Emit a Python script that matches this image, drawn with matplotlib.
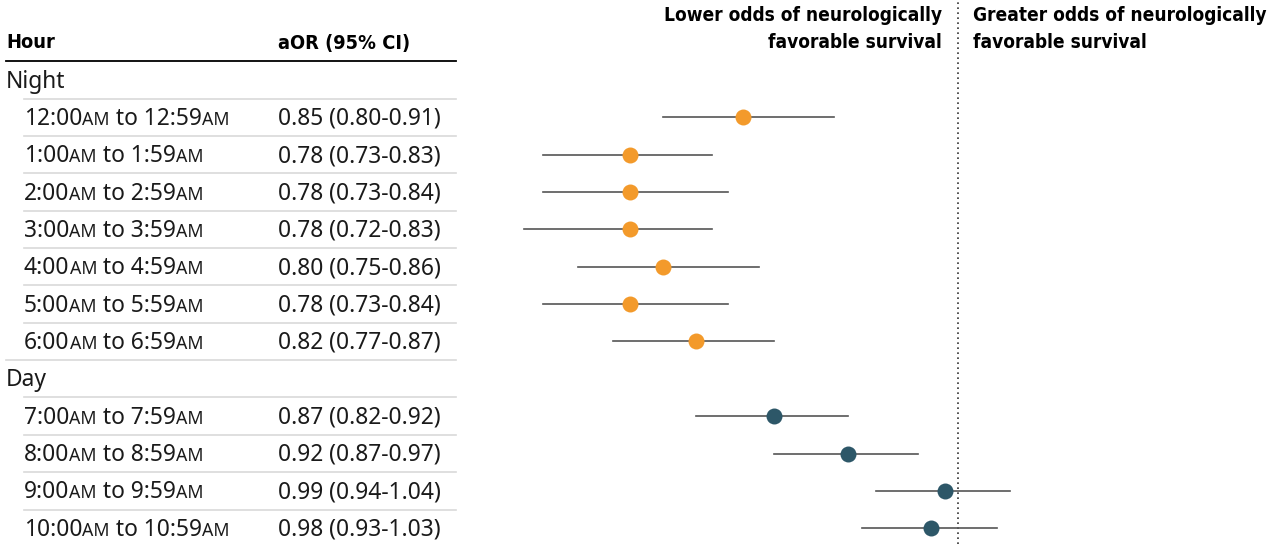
import numpy as np
import matplotlib
matplotlib.use("Agg")
import matplotlib.pyplot as plt

hours = ['12:00AM to 12:59AM', '1:00AM to 1:59AM', '2:00AM to 2:59AM', '3:00AM to 3:59AM',
         '4:00AM to 4:59AM', '5:00AM to 5:59AM', '6:00AM to 6:59AM',
         '7:00AM to 7:59AM', '8:00AM to 8:59AM', '9:00AM to 9:59AM', '10:00AM to 10:59AM']
group = ['Night'] * 7 + ['Day'] * 4
aor = [0.85, 0.78, 0.78, 0.78, 0.80, 0.78, 0.82, 0.87, 0.92, 0.99, 0.98]
lo = [0.80, 0.73, 0.73, 0.72, 0.75, 0.73, 0.77, 0.82, 0.87, 0.94, 0.93]
hi = [0.91, 0.83, 0.84, 0.83, 0.86, 0.84, 0.87, 0.92, 0.97, 1.04, 1.03]

colors = {'Night': '#F39A2B', 'Day': '#2D5768'}
W, H = 1280, 544
row_h = 37.35
top = 80

fig = plt.figure(figsize=(12.8, 5.44), dpi=100)
# table axes in pixel coordinates
tab = fig.add_axes([0, 0, 1, 1])
tab.set_xlim(0, W)
tab.set_ylim(H, 0)
tab.axis('off')

# forest axes, log scale, sharing the same row positions
fa = fig.add_axes([470 / W, 0, 810 / W, 1])
fa.set_xscale('log')
fa.set_xlim(0.691, 1.276)
fa.set_ylim(H, 0)
fa.axis('off')

body = ['Noto Sans', 'DejaVu Sans']
head = ['DejaVu Sans']
fs = 16.4
txt_col = '#1a1a1a'

renderer = fig.canvas.get_renderer()


def pieces_text(x, y, s):
    # split "AM" into smaller caps, chained along one baseline
    parts = []
    for i, chunk in enumerate(s.split('AM')):
        if i > 0:
            parts.append(('AM', fs * 0.78))
        if chunk:
            parts.append((chunk, fs))
    for chunk, size in parts:
        t = tab.text(x, y, chunk, fontsize=size, family=body, color=txt_col,
                     va='baseline', ha='left')
        bb = t.get_window_extent(renderer)
        x = tab.transData.inverted().transform((bb.x1, bb.y0))[0]


hkw = dict(family=head, weight='bold', stretch='condensed', color='black')

# header
tab.text(6, 43, 'Hour', va='center', fontsize=14.3, **hkw)
tab.text(278, 43, 'aOR (95% CI)', va='center', fontsize=14.3, **hkw)
tab.plot([6, 456], [top - row_h / 2] * 2, color='black', lw=1.3)

# rows
r = 0
ys = []
prev = None
for i, h in enumerate(hours):
    if group[i] != prev:
        y = top + r * row_h
        tab.text(6, y + 7.5, group[i], fontsize=fs, family=body, va='baseline', color=txt_col)
        tab.plot([24, 456], [y + row_h / 2] * 2, color='#d9d9d9', lw=1.2)
        r += 1
        prev = group[i]
    y = top + r * row_h
    ys.append(y)
    pieces_text(24, y + 7.5, h)
    tab.text(278, y + 7.5, '%.2f (%.2f-%.2f)' % (aor[i], lo[i], hi[i]), fontsize=fs,
             family=body, va='baseline', color=txt_col)
    last_night = i + 1 < len(hours) and group[i + 1] != group[i]
    x0 = 6 if last_night else 24
    if i < len(hours) - 1:
        tab.plot([x0, 456], [y + row_h / 2] * 2, color='#d9d9d9', lw=1.2)
    r += 1

# forest plot
for i in range(len(hours)):
    fa.plot([lo[i], hi[i]], [ys[i], ys[i]], color='#555555', lw=1.2, zorder=2)
    fa.plot(aor[i], ys[i], 'o', color=colors[group[i]], ms=11.5, mec='none', zorder=3)
fa.axvline(1.0, color='#333333', lw=1.2, ls=(0, (1, 2)), zorder=1)

# direction labels
fa.annotate('Lower odds of neurologically\nfavorable survival', xy=(1.0, 1.0),
            xycoords=('data', 'axes fraction'), xytext=(-16, -6), textcoords='offset pixels',
            ha='right', va='top', linespacing=1.55, fontsize=13.7, **hkw)
fa.annotate('Greater odds of neurologically\nfavorable survival', xy=(1.0, 1.0),
            xycoords=('data', 'axes fraction'), xytext=(15, -6), textcoords='offset pixels',
            ha='left', va='top', linespacing=1.55, fontsize=13.7, **hkw)

fig.savefig('out.png', dpi=100)
